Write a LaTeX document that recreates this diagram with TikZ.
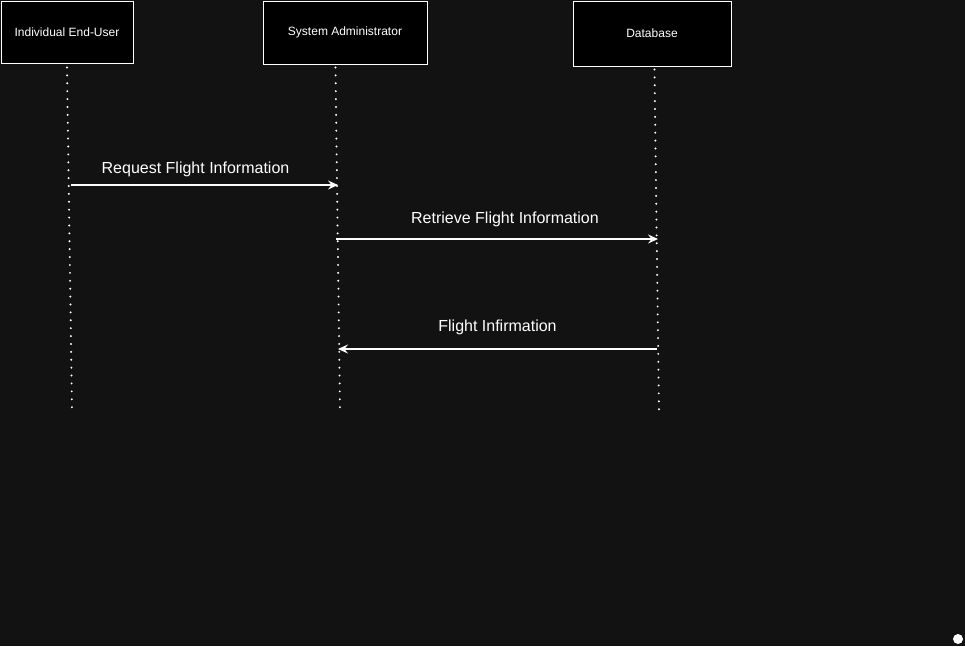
\documentclass[tikz,border=0pt]{standalone}
\usepackage{fontspec}
\setmainfont{Liberation Sans}
\usetikzlibrary{arrows.meta,positioning}
\definecolor{bgdark}{RGB}{18,18,18}

\begin{document}
\begin{tikzpicture}[
  x=1pt,y=-1pt,
  actor/.style={draw=white,fill=black,line width=1pt,anchor=north west,align=center,
    text=white,font=\fontsize{12}{14}\selectfont,inner sep=0pt},
  life/.style={white,line width=2.2pt,line cap=round,dash pattern=on 0pt off 7.9pt},
  arr/.style={-{Stealth[length=10pt,width=9pt,inset=3.5pt]},white,line width=1.1pt},
  lbl/.style={text=white,font=\fontsize{16}{19}\selectfont}
]
\fill[bgdark] (0,0) rectangle (965,646);
\useasboundingbox (0,0) rectangle (965,646);
% actors
\node[actor,minimum width=132pt,minimum height=62pt] (user) at (0.5,0.5) {Individual End-User};
\node[actor,minimum width=164pt,minimum height=63pt] (admin) at (262.5,0.5) {System Administrator};
\node[actor,minimum width=158pt,minimum height=65pt] (db) at (572.5,0.5) {Database};
% lifelines
\coordinate (userend) at (72,410);
\coordinate (adminend) at (340,410);
\coordinate (dbend) at (659,412);
\draw[life] ([yshift=-4pt]user.south) -- (userend);
\draw[life] ([xshift=-9.5pt,yshift=-3pt]admin.south) -- (adminend);
\draw[life] ([xshift=2.5pt,yshift=-3pt]db.south) -- (dbend);
% messages
\coordinate (req1) at (71,185);   \coordinate (req2) at (338,185);
\coordinate (ret1) at (336,239);  \coordinate (ret2) at (658,239);
\coordinate (inf1) at (657,349);  \coordinate (inf2) at (338,349);
\draw[arr] (req1) -- node[lbl,above=4pt,xshift=-9pt] (reqlbl) {Request Flight Information} (req2);
\draw[arr] (ret1) -- node[lbl,above=8pt,xshift=8pt] (retlbl) {Retrieve Flight Information} (ret2);
\draw[arr] (inf1) -- node[lbl,above=10pt] (inflbl) {Flight Infirmation} (inf2);
\fill[white] (958,639) circle (5);
\end{tikzpicture}
\end{document}
